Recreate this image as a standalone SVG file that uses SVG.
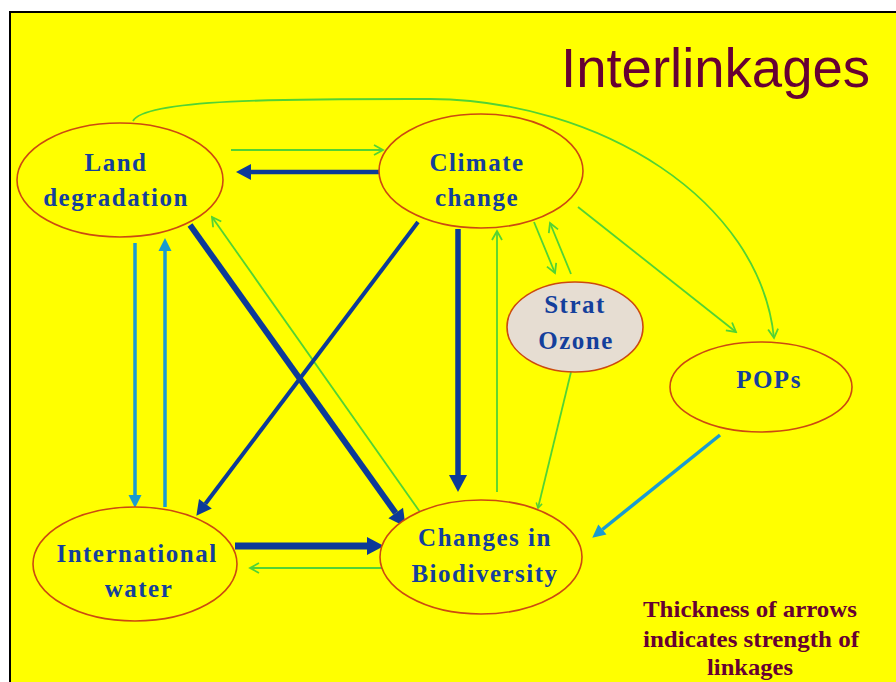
<svg xmlns="http://www.w3.org/2000/svg" width="896" height="682" viewBox="0 0 896 682">
<defs>
<style>
.node ellipse{fill:#ffff00;stroke:#cc4a10;stroke-width:1.6}
.node text{font-family:"Liberation Serif","Times New Roman",serif;font-weight:bold;font-size:25px;fill:#143f9c;letter-spacing:1.5px;text-anchor:middle}
.g{stroke:#52d334;stroke-width:1.8;fill:none}
.b{stroke:#0c3a98;fill:none}
.c{stroke:#1a9bd1;stroke-width:3.5;fill:none}
.note{font-family:"Liberation Serif","Times New Roman",serif;font-weight:bold;font-size:23px;fill:#660033;text-anchor:middle}
</style>
<marker id="mg" markerUnits="userSpaceOnUse" markerWidth="14" markerHeight="14" viewBox="-12 -7 14 14" refX="0" refY="0" orient="auto">
<path d="M-9,-5 L0,0 L-9,5" fill="none" stroke="#52d334" stroke-width="1.8"/>
</marker>
<marker id="mgs" markerUnits="userSpaceOnUse" markerWidth="10" markerHeight="10" viewBox="-8 -5 10 10" refX="0" refY="0" orient="auto">
<path d="M-5,-3 L0,0 L-5,3" fill="none" stroke="#52d334" stroke-width="1.5"/>
</marker>
<marker id="mb" markerUnits="userSpaceOnUse" markerWidth="20" markerHeight="22" viewBox="-1 -11 20 22" refX="0" refY="0" orient="auto">
<path d="M0,-9 L17,0 L0,9 z" fill="#0c3a98"/>
</marker>
<marker id="mb2" markerUnits="userSpaceOnUse" markerWidth="18" markerHeight="20" viewBox="-1 -10 18 20" refX="0" refY="0" orient="auto">
<path d="M0,-8 L15,0 L0,8 z" fill="#0c3a98"/>
</marker>
<marker id="mc" markerUnits="userSpaceOnUse" markerWidth="16" markerHeight="16" viewBox="-1 -8 16 16" refX="0" refY="0" orient="auto">
<path d="M0,-6.5 L13,0 L0,6.5 z" fill="#1a9bd1"/>
</marker>
</defs>
<rect x="0" y="0" width="896" height="682" fill="#ffffff"/>
<rect x="10" y="12" width="900" height="690" fill="#ffff00" stroke="#000000" stroke-width="2"/>
<text x="561" y="87" font-family="'Liberation Sans',Arial,sans-serif" font-size="56" fill="#660033" textLength="309" lengthAdjust="spacingAndGlyphs">Interlinkages</text>

<g id="connectors">
<path class="g" d="M133,121 C145,98 300,99 430,99 C600,100 760,200 774,338" marker-end="url(#mg)"/>
<line class="g" x1="231" y1="150" x2="383" y2="150" marker-end="url(#mg)"/>
<line class="b" stroke-width="4.5" x1="383" y1="172" x2="251" y2="172" marker-end="url(#mb2)"/>
<line class="c" x1="135" y1="243" x2="135" y2="495" marker-end="url(#mc)"/>
<line class="c" x1="165" y1="507" x2="165" y2="251" marker-end="url(#mc)"/>
<line class="b" stroke-width="6" x1="190" y1="225" x2="395.7" y2="513" marker-end="url(#mb)"/>
<line class="g" x1="420" y1="512" x2="212" y2="217" marker-end="url(#mg)"/>
<line class="b" stroke-width="4" x1="418" y1="222" x2="205.4" y2="503.8" marker-end="url(#mb2)"/>
<line class="b" stroke-width="5.5" x1="458" y1="229" x2="458" y2="475" marker-end="url(#mb)"/>
<line class="g" x1="497" y1="492" x2="497" y2="231" marker-end="url(#mg)"/>
<line class="g" x1="534" y1="222" x2="555" y2="273" marker-end="url(#mg)"/>
<line class="g" x1="571" y1="274" x2="550" y2="223" marker-end="url(#mg)"/>
<line class="g" x1="578" y1="207" x2="736" y2="332" marker-end="url(#mg)"/>
<line class="g" stroke-width="1.4" x1="571" y1="372" x2="538" y2="508" marker-end="url(#mgs)"/>
<line class="c" stroke-width="4" x1="720" y1="435" x2="602.4" y2="529.5" marker-end="url(#mc)"/>
<line class="b" stroke-width="7" x1="235" y1="546" x2="367" y2="546" marker-end="url(#mb)"/>
<line class="g" x1="382" y1="568" x2="250" y2="568" marker-end="url(#mg)"/>
</g>

<g id="land" class="node">
<ellipse cx="120" cy="180" rx="103" ry="57"/>
<text x="116" y="171">Land</text>
<text x="116" y="206">degradation</text>
</g>
<g id="climate" class="node">
<ellipse cx="481" cy="171" rx="102" ry="57"/>
<text x="477" y="171">Climate</text>
<text x="477" y="206">change</text>
</g>
<g id="ozone" class="node">
<ellipse cx="575" cy="327" rx="68" ry="45" style="fill:#e6ddd2"/>
<text x="575" y="313">Strat</text>
<text x="576" y="349">Ozone</text>
</g>
<g id="pops" class="node">
<ellipse cx="761" cy="387" rx="91" ry="45"/>
<text x="769" y="388">POPs</text>
</g>
<g id="water" class="node">
<ellipse cx="135" cy="564" rx="102" ry="57"/>
<text x="137" y="562">International</text>
<text x="139" y="597">water</text>
</g>
<g id="biodiversity" class="node">
<ellipse cx="481" cy="557" rx="101" ry="57"/>
<text x="485" y="546">Changes in</text>
<text x="485" y="582">Biodiversity</text>
</g>

<text class="note" x="750" y="617" textLength="214" lengthAdjust="spacingAndGlyphs">Thickness of arrows</text>
<text class="note" x="751" y="647" textLength="216" lengthAdjust="spacingAndGlyphs">indicates strength of</text>
<text class="note" x="750" y="675" textLength="86" lengthAdjust="spacingAndGlyphs">linkages</text>
</svg>
